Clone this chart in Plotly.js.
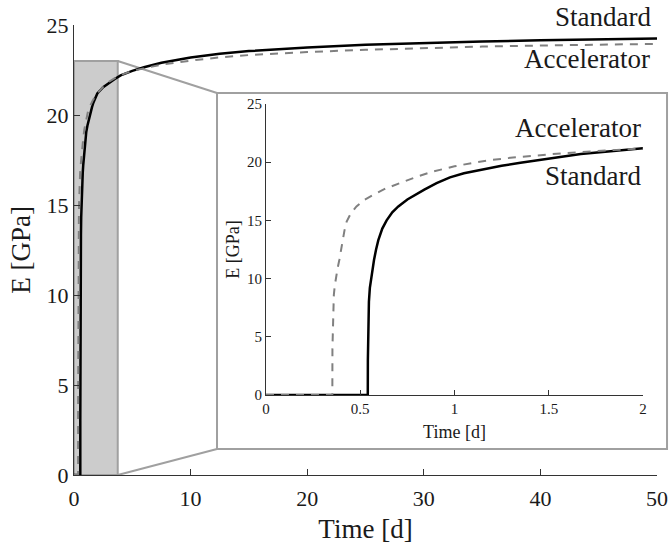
<!DOCTYPE html>
<html>
<head>
<meta charset="utf-8">
<script src="https://cdn.plot.ly/plotly-3.0.1.min.js"></script>
<style>
  html, body { margin: 0; padding: 0; background: #ffffff; }
  #chart { width: 671px; height: 550px; }
</style>
</head>
<body>
<div id="chart"></div>
<script>
// Elastic modulus development over time for the two mixes
const timeStandard = [0, 0.540, 0.5405, 0.542, 0.546, 0.551, 0.558, 0.565, 0.573, 0.584, 0.596, 0.617, 0.640, 0.670, 0.702, 0.75, 0.79, 0.84, 0.905, 0.976, 1.05, 1.15, 1.25, 1.35, 1.45, 1.55, 1.67, 1.8, 1.9, 2.0, 2.5, 3, 3.5, 4, 5, 6, 7.5, 10, 12.5, 15, 20, 25, 30, 35, 40, 45, 50];
const modulusStandard = [0, 0, 3, 6, 8, 9.2, 10.1, 10.9, 11.6, 12.5, 13.3, 14.3, 15.0, 15.7, 16.2, 16.8, 17.2, 17.65, 18.2, 18.7, 19.05, 19.4, 19.7, 19.95, 20.2, 20.45, 20.7, 20.9, 21.05, 21.2, 21.55, 21.8, 22.0, 22.2, 22.45, 22.65, 22.9, 23.2, 23.4, 23.55, 23.75, 23.9, 24.0, 24.08, 24.15, 24.2, 24.25];

const timeAccelerator = [0, 0.352, 0.3525, 0.355, 0.36, 0.365, 0.371, 0.38, 0.389, 0.397, 0.406, 0.416, 0.428, 0.45, 0.48, 0.52, 0.57, 0.63, 0.71, 0.8, 0.886, 1.0, 1.1, 1.2, 1.31, 1.4, 1.5, 1.6, 1.67, 1.8, 1.9, 2.0, 2.5, 3, 3.5, 4, 5, 6, 7.5, 10, 12.5, 15, 20, 25, 30, 35, 40, 45, 50];
const modulusAccelerator = [0, 0, 4, 7, 8.6, 9.4, 10.1, 10.9, 11.6, 12.4, 13.2, 14.1, 14.9, 15.6, 16.2, 16.75, 17.2, 17.7, 18.2, 18.75, 19.2, 19.65, 19.95, 20.2, 20.4, 20.55, 20.67, 20.8, 20.88, 21.02, 21.12, 21.2, 21.57, 21.85, 22.05, 22.22, 22.45, 22.6, 22.8, 23.02, 23.2, 23.33, 23.5, 23.62, 23.72, 23.8, 23.86, 23.91, 23.95];

const seriesNames = ['Standard', 'Accelerator'];
const mainXTicks = [0, 10, 20, 30, 40, 50];
const mainYTicks = [0, 5, 10, 15, 20, 25];
const insetXTicks = [0, 0.5, 1, 1.5, 2];
const insetXTickText = ['0', '0.5', '1', '1.5', '2'];
const insetYTicks = [0, 5, 10, 15, 20, 25];

// axis extents
const mainXRange = [0, 50], mainYRange = [0, 25];
const insetXRange = [0, 2], insetYRange = [0, 25];

// highlighted early-age window on the main axes (data units)
const windowX1 = 3.75, windowY1 = 23;

// inset frame in paper units
const frame = { x0: 0.2453, x1: 1.0172, y0: 0.0578, y1: 0.8489 };

const SERIF = '"Liberation Serif", "Times New Roman", serif';
const INK = '#1a1a1a';
const FRAME_GREY = '#a0a0a0';

function solid(x, y, xa, ya, w) {
  return { x: x, y: y, xaxis: xa, yaxis: ya, type: 'scatter', mode: 'lines',
    name: seriesNames[0], line: { color: '#000000', width: w }, hoverinfo: 'skip' };
}
function dashed(x, y, xa, ya, w) {
  return { x: x, y: y, xaxis: xa, yaxis: ya, type: 'scatter', mode: 'lines',
    name: seriesNames[1], line: { color: '#808080', width: w, dash: '8px,7px' }, hoverinfo: 'skip' };
}

const traces = [
  solid(timeStandard, modulusStandard, 'x', 'y', 2.5),
  dashed(timeAccelerator, modulusAccelerator, 'x', 'y', 2),
  solid(timeStandard, modulusStandard, 'x2', 'y2', 2.5),
  dashed(timeAccelerator, modulusAccelerator, 'x2', 'y2', 2)
];

// corner of the highlight window expressed in paper units
const wx = (windowX1 - mainXRange[0]) / (mainXRange[1] - mainXRange[0]);
const wy = (windowY1 - mainYRange[0]) / (mainYRange[1] - mainYRange[0]);

const axisCommon = {
  showgrid: false, zeroline: false, showline: true, linecolor: '#333333', linewidth: 1,
  ticks: 'inside', tickcolor: '#333333', tickwidth: 1, mirror: false, fixedrange: true
};

const layout = {
  width: 671, height: 550,
  margin: { l: 74, r: 14, t: 25, b: 75 },
  paper_bgcolor: '#ffffff',
  plot_bgcolor: 'rgba(0,0,0,0)',
  showlegend: false,
  font: { family: SERIF, color: INK },
  xaxis: Object.assign({}, axisCommon, {
    domain: [0, 1], range: mainXRange, tickmode: 'array', tickvals: mainXTicks,
    ticklen: 6, ticklabelstandoff: 4, tickfont: { size: 22, family: SERIF, color: INK },
    title: { text: 'Time [d]', font: { size: 27, family: SERIF, color: INK }, standoff: 8 },
    anchor: 'y'
  }),
  yaxis: Object.assign({}, axisCommon, {
    domain: [0, 1], range: mainYRange, tickmode: 'array', tickvals: mainYTicks,
    ticklen: 6, tickfont: { size: 22, family: SERIF, color: INK },
    title: { text: 'E [GPa]', font: { size: 27, family: SERIF, color: INK }, standoff: 8 },
    anchor: 'x'
  }),
  xaxis2: Object.assign({}, axisCommon, {
    domain: [0.3293, 0.976], range: insetXRange, tickmode: 'array',
    tickvals: insetXTicks, ticktext: insetXTickText,
    ticklen: 5, tickfont: { size: 15, family: SERIF, color: INK },
    title: { text: 'Time [d]', font: { size: 18, family: SERIF, color: INK }, standoff: 9 },
    anchor: 'y2'
  }),
  yaxis2: Object.assign({}, axisCommon, {
    domain: [0.1778, 0.8244], range: insetYRange, tickmode: 'array', tickvals: insetYTicks,
    ticklen: 5, tickfont: { size: 15, family: SERIF, color: INK },
    title: { text: 'E [GPa]', font: { size: 18, family: SERIF, color: INK }, standoff: 2 },
    anchor: 'x2'
  }),
  shapes: [
    // shaded early-age window
    { type: 'rect', xref: 'x', yref: 'y', x0: 0, x1: windowX1, y0: 0, y1: windowY1,
      fillcolor: '#cccccc', line: { color: FRAME_GREY, width: 2 }, layer: 'below' },
    // inset frame
    { type: 'rect', xref: 'paper', yref: 'paper', x0: frame.x0, x1: frame.x1, y0: frame.y0, y1: frame.y1,
      fillcolor: '#ffffff', line: { color: FRAME_GREY, width: 2 }, layer: 'below' },
    // connector lines between window and inset frame
    { type: 'line', xref: 'paper', yref: 'paper', x0: wx, y0: wy, x1: frame.x0, y1: frame.y1,
      line: { color: FRAME_GREY, width: 2 }, layer: 'below' },
    { type: 'line', xref: 'paper', yref: 'paper', x0: wx, y0: 0, x1: frame.x0, y1: frame.y0,
      line: { color: FRAME_GREY, width: 2 }, layer: 'below' }
  ],
  annotations: [
    { text: 'Standard', xref: 'paper', yref: 'paper', x: 0.9931, y: 1.018, xanchor: 'right', yanchor: 'middle',
      showarrow: false, font: { size: 27, family: SERIF, color: INK } },
    { text: 'Accelerator', xref: 'paper', yref: 'paper', x: 0.9914, y: 0.924, xanchor: 'right', yanchor: 'middle',
      showarrow: false, font: { size: 27, family: SERIF, color: INK } },
    { text: 'Accelerator', xref: 'paper', yref: 'paper', x: 0.976, y: 0.771, xanchor: 'right', yanchor: 'middle',
      showarrow: false, font: { size: 27, family: SERIF, color: INK } },
    { text: 'Standard', xref: 'paper', yref: 'paper', x: 0.976, y: 0.664, xanchor: 'right', yanchor: 'middle',
      showarrow: false, font: { size: 27, family: SERIF, color: INK } }
  ]
};

Plotly.newPlot('chart', traces, layout, { displayModeBar: false, staticPlot: true });
</script>
</body>
</html>
